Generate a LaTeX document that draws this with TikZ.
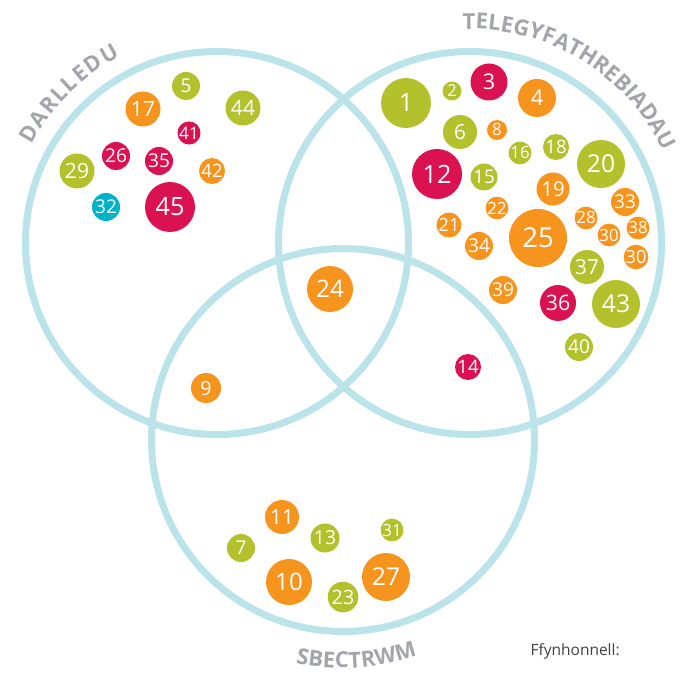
\documentclass[tikz,border=0pt]{standalone}
\usepackage{fontspec}
\setmainfont{Open Sans}
\usepackage{xcolor}
\usepackage{tikz}
\usetikzlibrary{decorations.text}
\definecolor{ringblue}{RGB}{186,227,234}
\definecolor{labelgray}{RGB}{163,165,170}
\definecolor{srcgray}{RGB}{64,64,64}
\definecolor{bubgreen}{RGB}{178,193,44}
\definecolor{bubred}{RGB}{218,18,82}
\definecolor{buborange}{RGB}{247,148,30}
\definecolor{bubteal}{RGB}{0,178,200}

\begin{document}
\begin{tikzpicture}[
  x=1pt, y=1pt,
  ring/.style={draw=ringblue, line width=7pt},
  bubble/.style={circle, inner sep=0pt, text=white},
  setname/.style={decorate, decoration={text along path, text color=labelgray,
                  text align={fit to path}}},
]
\useasboundingbox (0,0) rectangle (685,673);

% === Rings ===
\coordinate (darl) at (217,430);
\coordinate (tele) at (470,430);
\coordinate (sbec) at (343,233);
\draw[ring] (darl) circle (191.5pt);
\draw[ring] (tele) circle (191.5pt);
\draw[ring] (sbec) circle (191.5pt);

% === Set names along the rings ===
\path[setname, decoration={text={|\bfseries\fontsize{22}{22}\selectfont|DARLLEDU}}]
  (darl) ++(152:210pt) arc[start angle=152, end angle=117.5, radius=210pt];
\path[setname, decoration={text={|\bfseries\fontsize{22}{22}\selectfont|TELEGYFATHREBIADAU}}]
  (tele) ++(92:214pt) arc[start angle=92, end angle=25.5, radius=214pt];
\path[setname, decoration={text={|\bfseries\fontsize{22}{22}\selectfont|SBECTRWM}}]
  (sbec) ++(258:228pt) arc[start angle=258, end angle=289, radius=228pt];

% === Bubbles: green ===
\foreach \x/\y/\r/\v [count=\i] in {186/587/14/5, 243/565/17.5/44, 77/502/17.5/29,
    406/570/25/1, 452/582/9.5/2, 460/541/17/6, 520/520/10/16, 556/526/13/18,
    601/509/24/20, 484/496/13.5/15, 587/406/17/37, 616/369/24/43, 579/326/14/40,
    241/125/14/7, 325/135/14.5/13, 392/143/10/31, 343/76/15.3/23} {
  \pgfmathsetmacro\fs{11.2+0.56*\r}
  \node[bubble, fill=bubgreen, minimum size=2*\r,
        font=\fontsize{\fs}{\fs}\selectfont] (green\i) at (\x,\y) {\v};
}

% === Bubbles: crimson ===
\foreach \x/\y/\r/\v [count=\i] in {189/540/10.5/41, 116/517/14/26, 159/512/14/35,
    170/466/25/45, 489/591/18.5/3, 437/499/25/12, 558/370/18/36, 468/306/13/14} {
  \pgfmathsetmacro\fs{11.2+0.56*\r}
  \node[bubble, fill=bubred, minimum size=2*\r,
        font=\fontsize{\fs}{\fs}\selectfont] (red\i) at (\x,\y) {\v};
}

% === Bubbles: orange ===
\foreach \x/\y/\r/\v [count=\i] in {143/564/17.5/17, 212/502/13/42, 537/575/19/4,
    497/543/10/8, 553/484/16.5/19, 625/471/14/33, 497/465/10/22, 586/455/10/28,
    449/448/12.5/21, 638/445/10/38, 538/435/29/25, 479/427/14/34, 609/438/10/30,
    636/416/12.3/30, 503/383/14/39, 330/384/23/24, 206/285/15/9, 282/156/17/11,
    289/91/23/10, 386/96/24/27} {
  \pgfmathsetmacro\fs{11.2+0.56*\r}
  \node[bubble, fill=buborange, minimum size=2*\r,
        font=\fontsize{\fs}{\fs}\selectfont] (orange\i) at (\x,\y) {\v};
}

% === Bubbles: teal ===
\node[bubble, fill=bubteal, minimum size=28,
      font=\fontsize{19}{19}\selectfont] (teal1) at (106,466) {32};

% === Source ===
\node[anchor=base west, text=srcgray, font=\fontsize{15.5}{15.5}\selectfont]
  (source) at (527,18) {Ffynhonnell:};

\end{tikzpicture}
\end{document}
